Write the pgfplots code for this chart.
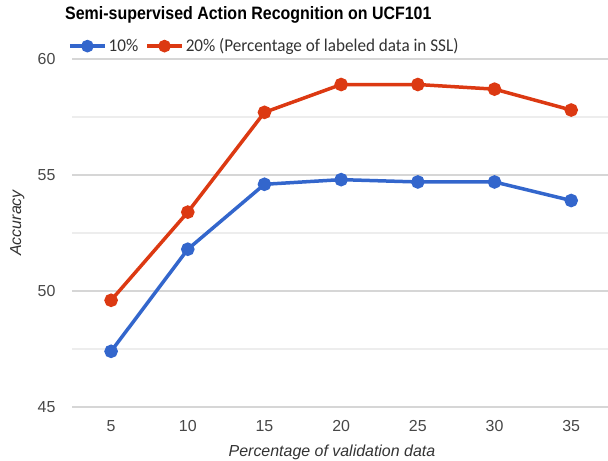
\documentclass[border=0pt]{standalone}
\usepackage{fontspec}
\setmainfont{Liberation Sans}
\newfontfamily\carlito{Carlito}
\usepackage{pgfplots}
\pgfplotsset{compat=1.18}
\definecolor{gblue}{HTML}{3366CC}
\definecolor{gred}{HTML}{DC3912}
\begin{document}
\begin{tikzpicture}
\useasboundingbox (0,0) rectangle (608bp,461bp);
\node[anchor=base west, inner sep=0] at (65bp,441bp) {\scalebox{0.89}[1]{\fontsize{18}{20}\selectfont\bfseries Semi-supervised Action Recognition on UCF101}};
\begin{axis}[at={(72bp,54bp)}, anchor=south west, scale only axis,
  width=536bp, height=348bp,
  xmin=2.45, xmax=37.4, ymin=45, ymax=60,
  xtick={5,10,...,35}, ytick={45,50,55,60}, minor ytick={47.5,52.5,57.5},
  ymajorgrids, yminorgrids,
  major grid style={draw=black!16, line width=1.4bp},
  minor grid style={draw=black!7, line width=1.4bp},
  axis line style={draw=none}, major tick length=0pt, minor tick length=0pt,
  tick label style={font=\fontsize{16}{18}\selectfont, text=black!72},
  /pgf/number format/assume math mode=true,
  yticklabel style={xshift=-13bp},
  xticklabel style={yshift=-10bp},
  xlabel={\itshape Percentage of validation data},
  xlabel style={font=\fontsize{16}{18}\selectfont, text=black!80, anchor=base, at={(axis description cs:0.485,0)}, yshift=-49bp},
  ylabel={\itshape Accuracy},
  ylabel style={font=\fontsize{16}{18}\selectfont, text=black!80, anchor=base, at={(axis description cs:-0.0951,0.529)}},
  legend columns=2,
  legend style={at={(axis description cs:-0.0075,1.037)}, anchor=west, draw=none, fill=none, inner sep=0pt,
    font=\carlito\fontsize{18}{20}\selectfont, text=black!80,
    /tikz/every even column/.style={column sep=5bp}},
  legend image code/.code={\draw[#1, mark size=4.5bp, mark repeat=2, mark phase=2] plot coordinates {(0bp,0bp) (17.5bp,0bp) (35bp,0bp)};},
  every axis plot/.append style={line width=3.5bp, mark=*, mark size=5bp, mark options={solid}},
  clip=false,
]
\addplot[color=gblue] coordinates {(5,47.4) (10,51.8) (15,54.6) (20,54.8) (25,54.7) (30,54.7) (35,53.9)};
\addlegendentry{\scalebox{0.955}[1]{10\%}}
\addplot[color=gred] coordinates {(5,49.6) (10,53.4) (15,57.7) (20,58.9) (25,58.9) (30,58.7) (35,57.8)};
\addlegendentry{\scalebox{0.955}[1]{20\% (Percentage of labeled data in SSL)}}
\end{axis}
\end{tikzpicture}
\end{document}
